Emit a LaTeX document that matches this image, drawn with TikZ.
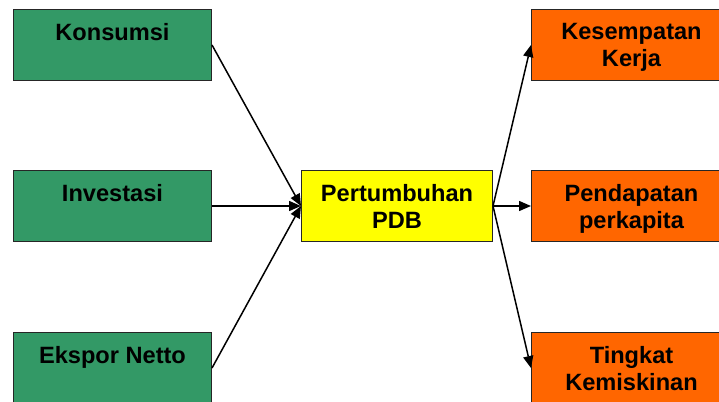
\documentclass[tikz,border=0pt]{standalone}
\usepackage{fontspec}
\setmainfont{Liberation Sans}
\usetikzlibrary{arrows.meta}
\definecolor{boxgreen}{HTML}{339966}
\definecolor{boxorange}{HTML}{FF6600}
\definecolor{boxyellow}{HTML}{FFFF00}
\begin{document}
\begin{tikzpicture}[x=1pt,y=-1pt,
  box/.style={draw=black!85, line width=1pt, minimum height=71pt, inner sep=0pt, anchor=north west},
  gbox/.style={box, fill=boxgreen, minimum width=198pt},
  obox/.style={box, fill=boxorange, minimum width=200pt},
  ybox/.style={box, fill=boxyellow, minimum width=191pt},
  lbl/.style={anchor=north, font=\fontsize{23.6}{27}\selectfont\bfseries, align=center, inner sep=0pt},
  conn/.style={line width=1.5pt, -{Triangle[length=12pt,width=10pt]}}]
\useasboundingbox (0,0) rectangle (719,401);
\clip (0,0) rectangle (719,401);
% left boxes
\node[gbox] (kons) at (13,9) {};
\node[gbox] (inv) at (13,170) {};
\node[gbox] (eks) at (13,332) {};
% centre
\node[ybox] (pdb) at (301,170) {};
% right boxes
\node[obox] (kerja) at (531,9) {};
\node[obox] (pend) at (531,170) {};
\node[obox] (miskin) at (531,332) {};
% labels
\node[lbl] (tkons) at ([yshift=-14pt]kons.north) {Konsumsi};
\node[lbl] (tinv) at ([yshift=-14pt]inv.north) {Investasi};
\node[lbl] (teks) at ([yshift=-14pt]eks.north) {Ekspor Netto};
\node[lbl] (tpdb) at ([yshift=-14pt]pdb.north) {Pertumbuhan\\PDB};
\node[lbl] (tkerja) at ([yshift=-14pt]kerja.north) {Kesempatan\\Kerja};
\node[lbl] (tpend) at ([yshift=-14pt]pend.north) {Pendapatan\\perkapita};
\node[lbl] (tmiskin) at ([yshift=-14pt]miskin.north) {Tingkat\\Kemiskinan};
% connectors
\draw[conn] (kons.east) -- (pdb.west);
\draw[conn] (inv.east) -- (pdb.west);
\draw[conn] (eks.east) -- (pdb.west);
\draw[conn] (pdb.east) -- (kerja.west);
\draw[conn] (pdb.east) -- (pend.west);
\draw[conn] (pdb.east) -- (miskin.west);
\end{tikzpicture}
\end{document}
